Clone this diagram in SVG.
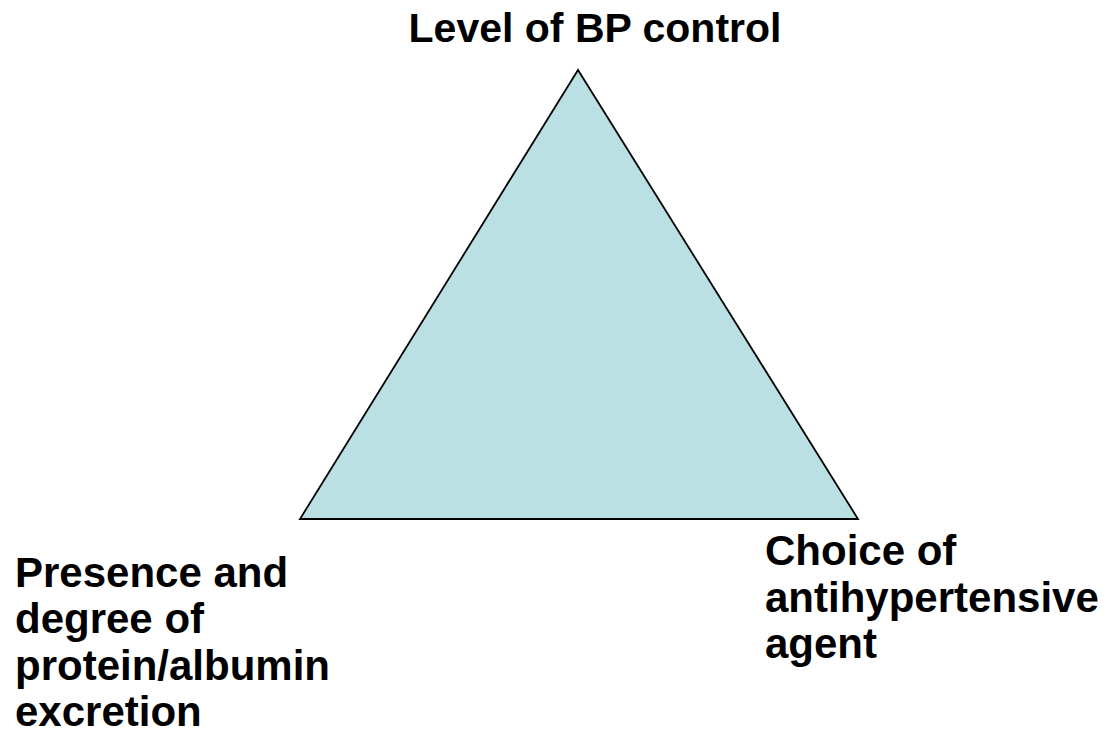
<svg xmlns="http://www.w3.org/2000/svg" width="1111" height="744" viewBox="0 0 1111 744">
<style>
.lbl{font-family:"Liberation Sans",Arial,sans-serif;font-weight:bold;font-size:42px;fill:#000}
.ttl{font-size:41px}
.tri{fill:#BBE0E3;stroke:#000;stroke-width:1.8;stroke-linejoin:miter}
</style>
<rect width="1111" height="744" fill="#fff"/>
<g id="triangle">
<polygon class="tri" points="578,70 300,519 858,519"/>
</g>
<g id="connectors"></g>
<g id="top-label">
<text class="lbl ttl" x="595" y="42" text-anchor="middle">Level of BP control</text>
</g>
<g id="left-label">
<text class="lbl" x="15" y="587">Presence and</text>
<text class="lbl" x="15" y="633">degree of</text>
<text class="lbl" x="15" y="680">protein/albumin</text>
<text class="lbl" x="15" y="726">excretion</text>
</g>
<g id="right-label">
<text class="lbl" x="765" y="565">Choice of</text>
<text class="lbl" x="765" y="612">antihypertensive</text>
<text class="lbl" x="765" y="658">agent</text>
</g>
</svg>
